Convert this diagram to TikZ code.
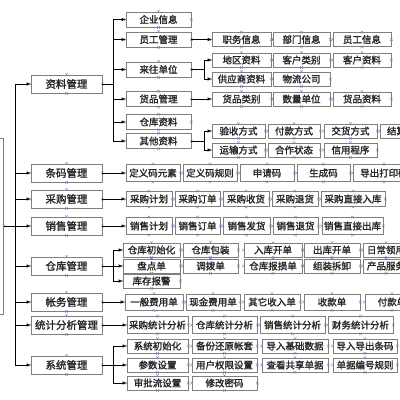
\documentclass[tikz,border=0pt]{standalone}
\usepackage{fontspec}
\setmainfont{Noto Sans CJK SC}[FakeBold=1.6]
\usetikzlibrary{arrows.meta}
\definecolor{bxc}{HTML}{7F7F7F}
\definecolor{cpc}{HTML}{7A7AC8}
\tikzset{
 bx/.style={draw=bxc, line width=0.8pt, fill=white, inner sep=0pt, font=\fontsize{9.5}{10}\selectfont, text=black!85},
 lone/.style={font=\fontsize{10.5}{11}\selectfont},
 ln/.style={draw=black, line width=0.8pt},
 arr/.style={ln, -{Latex[length=4pt,width=3.5pt]}},
 cpx/.style={draw=cpc, line width=0.4pt},
}
\newcommand\bx[7][]{%
 \node[bx,#1,minimum width={(#4)-(#3)}, minimum height={#6}] (#2) at ({((#3)+(#4))/2},#5) {#7};
 \foreach \anc in {north,south,east,west}{\draw[cpx] (#2.\anc) +(-1.3,-1.3) -- +(1.3,1.3) +(-1.3,1.3) -- +(1.3,-1.3);}
}
\begin{document}
\begin{tikzpicture}[x=1pt,y=-1pt]
\useasboundingbox (0,0) rectangle (400,400);
\clip (0,0) rectangle (400,400);
\fill[white] (0,0) rectangle (400,400);
% root
\bx{root}{-40}{3.5}{226}{176}{}
% level 1
\bx[lone]{L1a}{31}{102}{84}{18}{资料管理}
\bx[lone]{L1b}{31}{102}{173}{18}{条码管理}
\bx[lone]{L1c}{31}{102}{199}{18}{采购管理}
\bx[lone]{L1d}{31}{102}{226}{18}{销售管理}
\bx[lone]{L1e}{31}{102}{266}{18}{仓库管理}
\bx[lone]{L1f}{31}{102}{302}{18}{帐务管理}
\bx[lone]{L1g}{31}{102}{325}{18}{统计分析管理}
\bx[lone]{L1h}{31}{102}{365}{18}{系统管理}
% 资料管理
\bx{A1}{126}{191}{19.5}{15}{企业信息}
\bx{A2}{126}{191}{39.5}{15}{员工管理}
\bx{A3}{126}{191}{69.5}{15}{来往单位}
\bx{A4}{126}{191}{99}{15}{货品管理}
\bx{A5}{126}{191}{122}{15}{仓库资料}
\bx{A6}{126}{191}{141}{15}{其他资料}
\bx{E1}{212}{271}{39.5}{14}{职务信息}
\bx{E2}{273}{330}{39.5}{14}{部门信息}
\bx{E3}{333}{391}{39.5}{14}{员工信息}
\bx{C1}{212}{271}{60}{14}{地区资料}
\bx{C2}{273}{330}{60}{14}{客户类别}
\bx{C3}{333}{391}{60}{14}{客户资料}
\bx{C4}{212}{271}{79}{14}{供应商资料}
\bx{C5}{273}{330}{79}{14}{物流公司}
\bx{G1}{212}{271}{99}{14}{货品类别}
\bx{G2}{273}{330}{99}{14}{数量单位}
\bx{G3}{333}{391}{99}{14}{货品资料}
\bx{Q1}{212}{265}{131}{14}{验收方式}
\bx{Q2}{268}{320}{131}{14}{付款方式}
\bx{Q3}{324}{377}{131}{14}{交货方式}
\bx{Q4}{380}{432}{131}{14}{结算方式}
\bx{Q5}{212}{265}{150}{14}{运输方式}
\bx{Q6}{268}{320}{150}{14}{合作状态}
\bx{Q7}{324}{377}{150}{14}{信用程序}
% 条码
\bx{M1}{126}{180}{173}{17}{定义码元素}
\bx{M2}{183}{237}{173}{17}{定义码规则}
\bx{M3}{240}{294}{173}{17}{申请码}
\bx{M4}{297}{350}{173}{17}{生成码}
\bx{M5}{353}{415}{173}{17}{导出打印码}
% 采购
\bx{P1}{126}{172}{199}{15}{采购计划}
\bx{P2}{175}{220}{199}{15}{采购订单}
\bx{P3}{223}{269}{199}{15}{采购收货}
\bx{P4}{272}{318}{199}{15}{采购退货}
\bx{P5}{321}{385}{199}{15}{采购直接入库}
% 销售
\bx{S1}{126}{172}{226}{17}{销售计划}
\bx{S2}{175}{220}{226}{17}{销售订单}
\bx{S3}{223}{270}{226}{17}{销售发货}
\bx{S4}{273}{318}{226}{17}{销售退货}
\bx{S5}{322}{383}{226}{17}{销售直接出库}
% 仓库
\bx{W1}{123}{180}{250}{14}{仓库初始化}
\bx{W2}{183}{238}{250}{14}{仓库包装}
\bx{W3}{244}{302}{250}{14}{入库开单}
\bx{W4}{304}{360}{250}{14}{出库开单}
\bx{W5}{363}{409}{250}{14}{日常领用}
\bx{W6}{123}{180}{266}{14}{盘点单}
\bx{W7}{183}{238}{266}{14}{调拨单}
\bx{W8}{244}{302}{266}{14}{仓库报损单}
\bx{W9}{304}{360}{266}{14}{组装拆卸}
\bx{W10}{363}{409}{266}{14}{产品服务}
\bx{W11}{123}{180}{281}{14}{库存报警}
% 帐务
\bx{F1}{125}{183}{302}{16}{一般费用单}
\bx{F2}{186}{240}{302}{16}{现金费用单}
\bx{F3}{244}{300}{302}{16}{其它收入单}
\bx{F4}{304}{360}{302}{16}{收款单}
\bx{F5}{365}{419}{302}{16}{付款单}
% 统计
\bx{K1}{127}{188}{325}{17}{采购统计分析}
\bx{K2}{192}{257}{325}{17}{仓库统计分析}
\bx{K3}{260}{325}{325}{17}{销售统计分析}
\bx{K4}{328}{393}{325}{17}{财务统计分析}
% 系统
\bx{Y1}{127}{188}{346}{14}{系统初始化}
\bx{Y2}{192}{257}{346}{14}{备份还原帐套}
\bx{Y3}{262}{328}{346}{14}{导入基础数据}
\bx{Y4}{333}{397}{346}{14}{导入导出条码}
\bx{Y5}{127}{188}{365}{14}{参数设置}
\bx{Y6}{192}{257}{365}{14}{用户权限设置}
\bx{Y7}{262}{328}{365}{14}{查看共享单据}
\bx{Y8}{333}{397}{365}{14}{单据编号规则}
\bx{Y9}{127}{188}{383}{14}{审批流设置}
\bx{Y10}{192}{257}{383}{14}{修改密码}
% connectors
\coordinate (T) at (15,0);
\coordinate (Ba) at (113,0);
\coordinate (Bb) at (204,0);
\draw[ln] (root.east) -- (T |- root.east);
\draw[ln] (T |- L1a.west) -- (T |- L1h.west);
\foreach \n in {L1a,L1b,L1c,L1d,L1e,L1f,L1g,L1h}{\draw[arr] (T |- \n.west) -- (\n.west);}
\draw[ln] (L1a.east) -- (Ba |- L1a.east);
\draw[ln] (Ba |- A1.west) -- (Ba |- A6.west);
\foreach \n in {A1,A2,A3,A4,A5,A6}{\draw[arr] (Ba |- \n.west) -- (\n.west);}
\draw[arr] (A2.east) -- (E1.west);
\draw[ln] (A3.east) -- (Bb |- A3.east);
\draw[ln] (Bb |- C1.west) -- (Bb |- C4.west);
\draw[arr] (Bb |- C1.west) -- (C1.west);
\draw[arr] (Bb |- C4.west) -- (C4.west);
\draw[arr] (A4.east) -- (G1.west);
\draw[ln] (A6.east) -- (Bb |- A6.east);
\draw[ln] (Bb |- Q1.west) -- (Bb |- Q5.west);
\draw[arr] (Bb |- Q1.west) -- (Q1.west);
\draw[arr] (Bb |- Q5.west) -- (Q5.west);
\draw[arr] (L1b.east) -- (M1.west);
\draw[arr] (L1c.east) -- (P1.west);
\draw[arr] (L1d.east) -- (S1.west);
\draw[ln] (L1e.east) -- (Ba |- L1e.east);
\draw[ln] (Ba |- W1.west) -- (Ba |- W11.west);
\foreach \n in {W1,W6,W11}{\draw[arr] (Ba |- \n.west) -- (\n.west);}
\draw[arr] (L1f.east) -- (F1.west);
\draw[arr] (L1g.east) -- (K1.west);
\draw[ln] (L1h.east) -- (Ba |- L1h.east);
\draw[ln] (Ba |- Y1.west) -- (Ba |- Y9.west);
\foreach \n in {Y1,Y5,Y9}{\draw[arr] (Ba |- \n.west) -- (\n.west);}
\end{tikzpicture}
\end{document}
